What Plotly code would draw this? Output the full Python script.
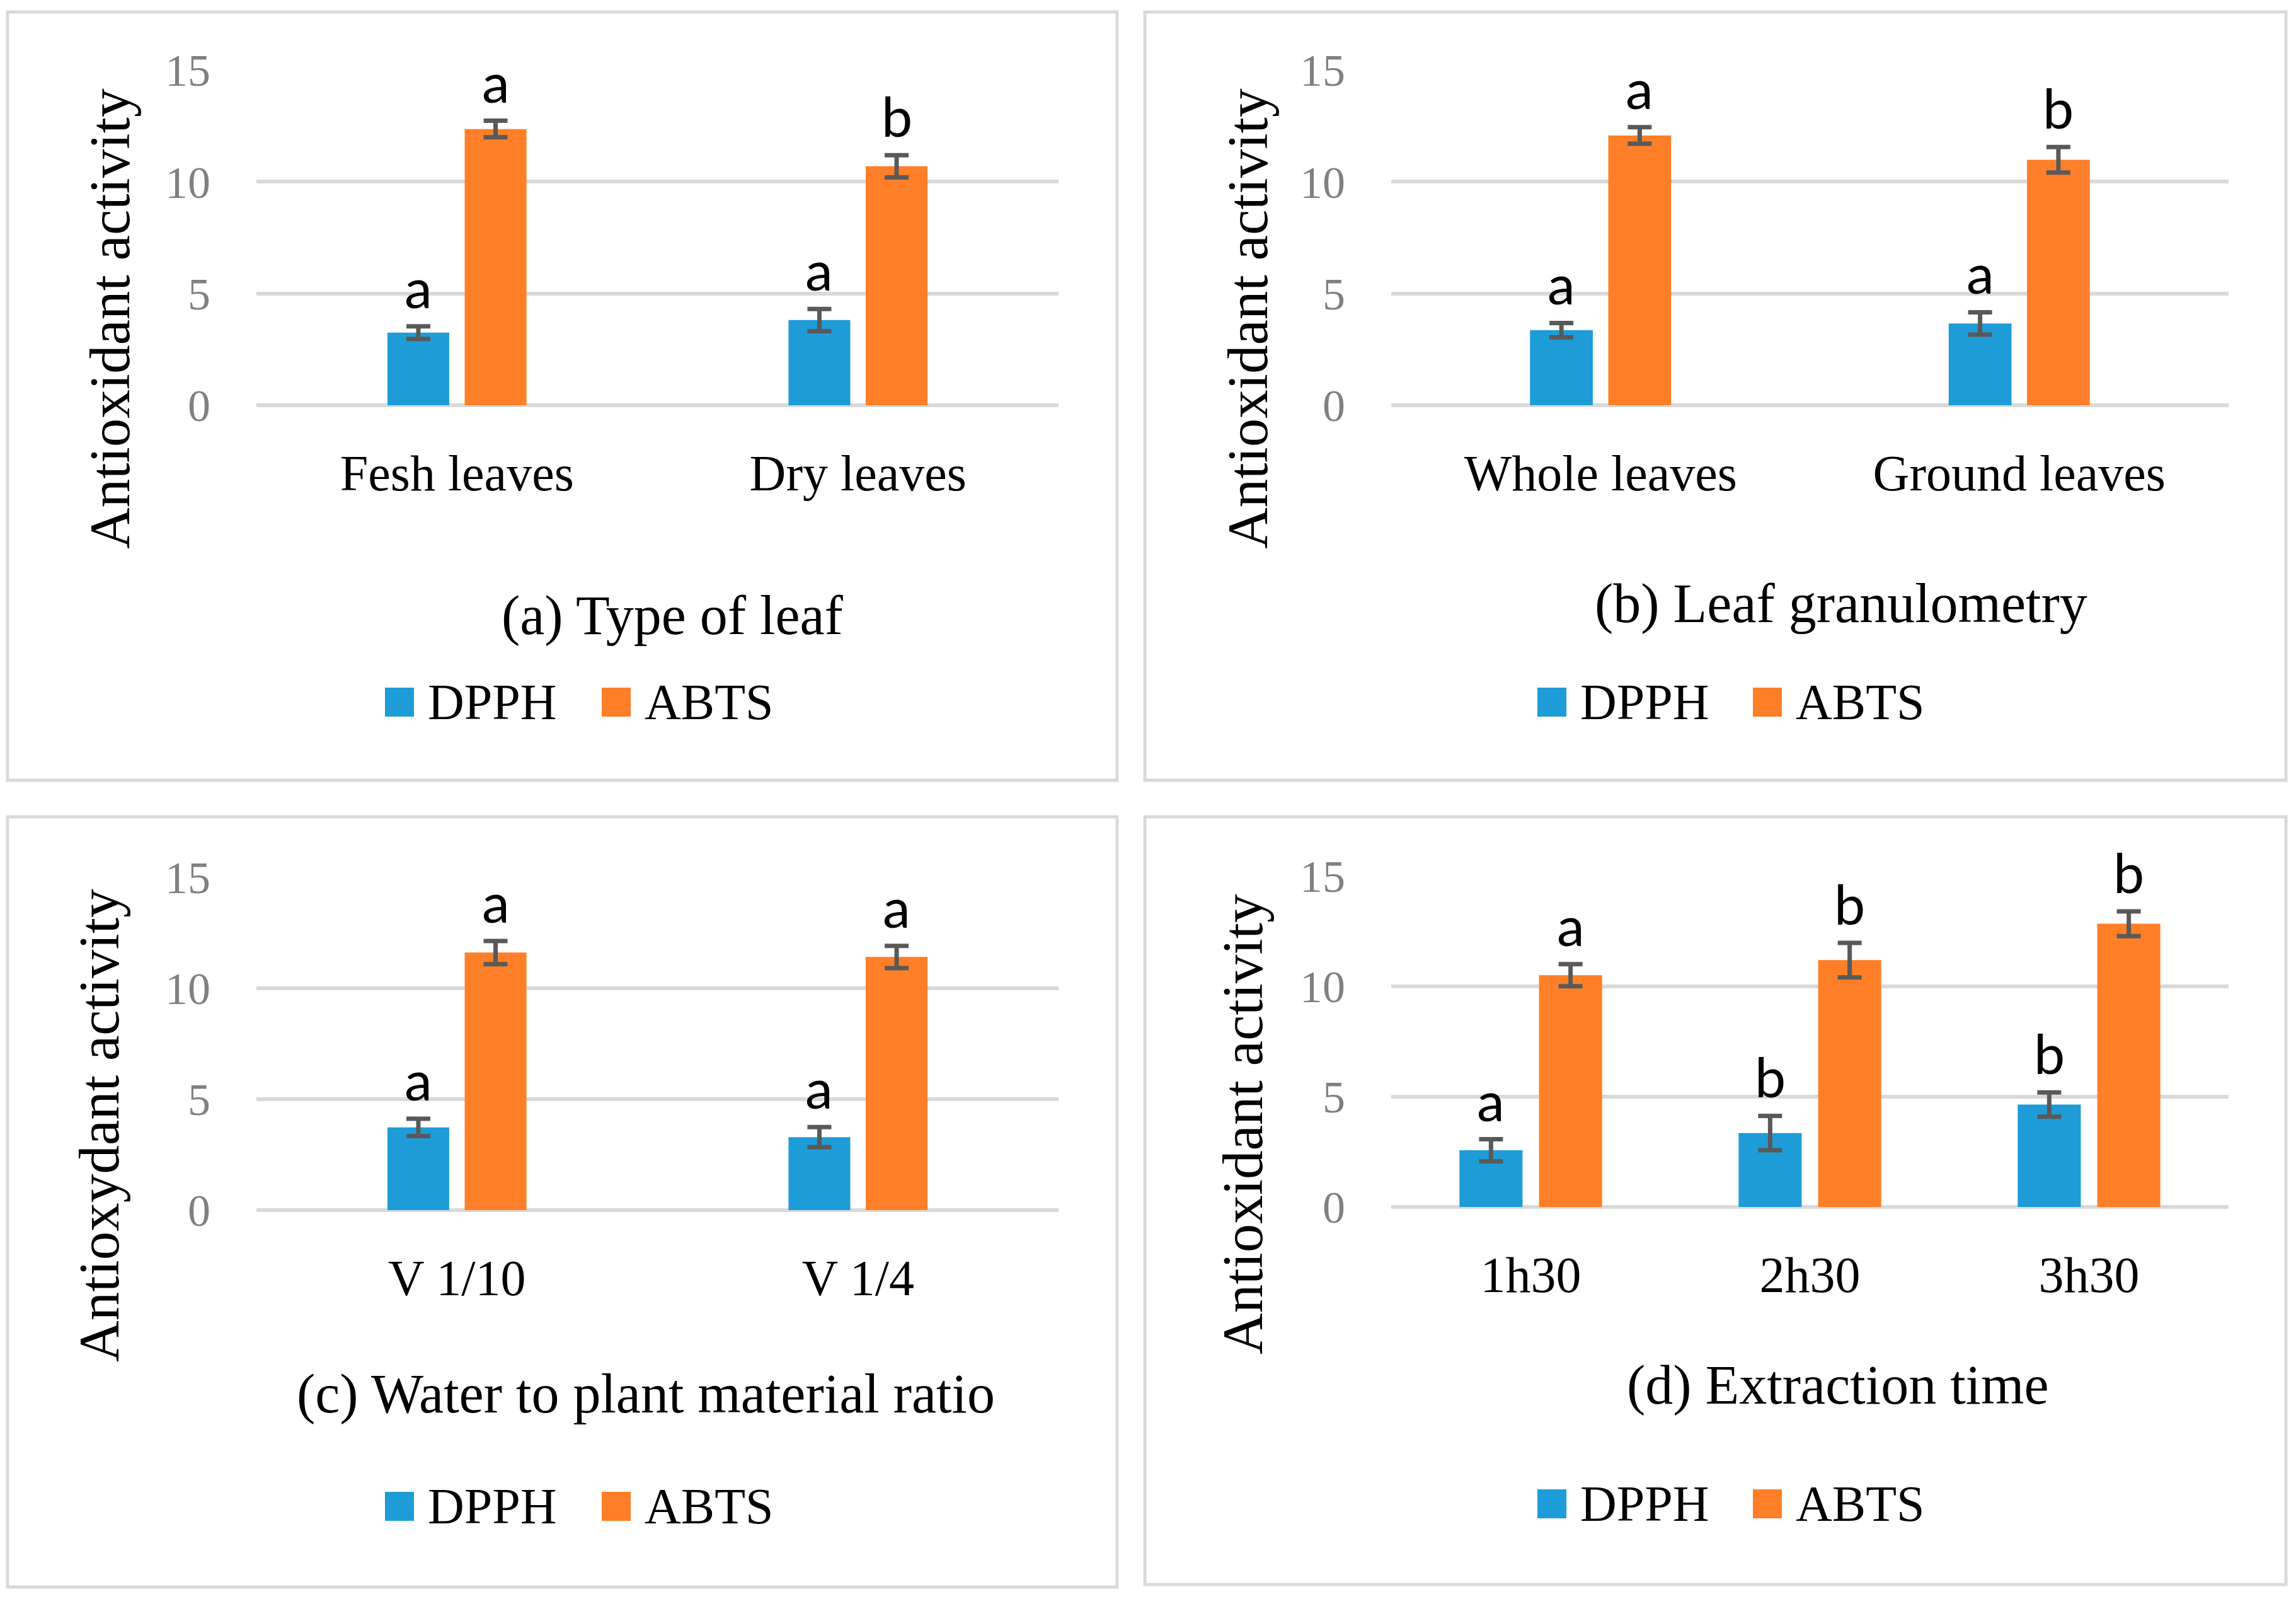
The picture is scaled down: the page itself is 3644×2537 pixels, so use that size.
import plotly.graph_objects as go

W, H = 3644, 2537
PAGE_OFFSET = 8  # the browser page margin pushes the figure down/right by this much

SERIES = ["DPPH", "ABTS"]
COLORS = ["#1e9cd8", "#fe7f27"]

# (a) Type of leaf
cats_a = ["Fesh leaves", "Dry leaves"]
dpph_a = [3.25, 3.81]
dpph_err_a = [0.28, 0.50]
abts_a = [12.36, 10.69]
abts_err_a = [0.37, 0.50]
dpph_let_a = ["a", "a"]
abts_let_a = ["a", "b"]

# (b) Leaf granulometry
cats_b = ["Whole leaves", "Ground leaves"]
dpph_b = [3.36, 3.66]
dpph_err_b = [0.32, 0.50]
abts_b = [12.07, 10.98]
abts_err_b = [0.37, 0.57]
dpph_let_b = ["a", "a"]
abts_let_b = ["a", "b"]

# (c) Water to plant material ratio
cats_c = ["V 1/10", "V 1/4"]
dpph_c = [3.73, 3.29]
dpph_err_c = [0.39, 0.45]
abts_c = [11.61, 11.41]
abts_err_c = [0.52, 0.50]
dpph_let_c = ["a", "a"]
abts_let_c = ["a", "a"]

# (d) Extraction time
cats_d = ["1h30", "2h30", "3h30"]
dpph_d = [2.57, 3.35, 4.64]
dpph_err_d = [0.50, 0.78, 0.55]
abts_d = [10.51, 11.19, 12.84]
abts_err_d = [0.50, 0.78, 0.56]
dpph_let_d = ["a", "b", "b"]
abts_let_d = ["a", "b", "b"]

SUBTITLES = ["(a) Type of leaf", "(b) Leaf granulometry",
             "(c) Water to plant material ratio", "(d) Extraction time"]
YTITLES = ["Antioxidant activity", "Antioxidant activity",
           "Antioxydant activity", "Antioxidant activity"]

SERIF = "Liberation Serif"
SANS = "Lato"
GRID = "#d9d9d9"


def px(x):
    return (x - PAGE_OFFSET) / W


def py(y):
    return 1 - (y - PAGE_OFFSET) / H


panels = [
    dict(cats=cats_a, vals=[dpph_a, abts_a], errs=[dpph_err_a, abts_err_a], lets=[dpph_let_a, abts_let_a],
         box=(12, 19, 1773, 1238), xdom=(407, 1680), ydom=(111, 643), bw=0.154, gap=0.0386,
         ytitle=(174, 506), sub=(1067, 977), leg=(611, 955, 1114)),
    dict(cats=cats_b, vals=[dpph_b, abts_b], errs=[dpph_err_b, abts_err_b], lets=[dpph_let_b, abts_let_b],
         box=(1817, 19, 3628, 1238), xdom=(2208, 3537), ydom=(111, 643), bw=0.150, gap=0.037,
         ytitle=(1980, 506), sub=(2922, 957), leg=(2440, 2782, 1114)),
    dict(cats=cats_c, vals=[dpph_c, abts_c], errs=[dpph_err_c, abts_err_c], lets=[dpph_let_c, abts_let_c],
         box=(12, 1296, 1773, 2518), xdom=(407, 1680), ydom=(1392, 1920), bw=0.154, gap=0.0386,
         ytitle=(158, 1786), sub=(1025, 2211), leg=(611, 955, 2390)),
    dict(cats=cats_d, vals=[dpph_d, abts_d], errs=[dpph_err_d, abts_err_d], lets=[dpph_let_d, abts_let_d],
         box=(1817, 1296, 3628, 2514), xdom=(2208, 3537), ydom=(1390, 1915), bw=0.226, gap=0.059,
         ytitle=(1972, 1784), sub=(2917, 2197), leg=(2440, 2782, 2386)),
]

fig = go.Figure()
shapes = []
annotations = []
layout_axes = {}

for k, p in enumerate(panels):
    n = k + 1
    xa = "x" if n == 1 else f"x{n}"
    ya = "y" if n == 1 else f"y{n}"
    offsets = [-p["bw"] - p["gap"] / 2, p["gap"] / 2]

    for s in range(2):
        fig.add_trace(go.Bar(
            x=p["cats"], y=p["vals"][s], name=SERIES[s],
            width=p["bw"], offset=offsets[s],
            marker=dict(color=COLORS[s], line=dict(width=0)),
            error_y=dict(type="data", array=p["errs"][s], color="#595959", thickness=7, width=19),
            xaxis=xa, yaxis=ya, showlegend=False,
        ))
        # significance letters above the error bars
        for i, (v, e, t) in enumerate(zip(p["vals"][s], p["errs"][s], p["lets"][s])):
            annotations.append(dict(
                x=i + offsets[s] + p["bw"] / 2, y=v + e, xref=xa, yref=ya,
                text=t, showarrow=False, yanchor="bottom", yshift=8,
                font=dict(family=SANS, size=88, color="black"),
            ))

    xkey = "xaxis" if n == 1 else f"xaxis{n}"
    ykey = "yaxis" if n == 1 else f"yaxis{n}"
    layout_axes[xkey] = dict(
        domain=[px(p["xdom"][0]), px(p["xdom"][1])], anchor=ya, type="category",
        range=[-0.5, len(p["cats"]) - 0.5], showgrid=False, zeroline=False, showline=False,
        automargin=False, ticks="", ticklabelstandoff=54,
        tickfont=dict(family=SERIF, size=80, color="black"),
    )
    layout_axes[ykey] = dict(
        domain=[py(p["ydom"][1]), py(p["ydom"][0])], anchor=xa, range=[0, 15], dtick=5,
        showgrid=True, gridcolor=GRID, gridwidth=6, zeroline=True, zerolinecolor=GRID,
        zerolinewidth=6, showline=False, automargin=False, ticks="", ticklabelstandoff=72,
        tickfont=dict(family=SERIF, size=72, color="#808080"),
    )

    # panel frame
    x0, y0, x1, y1 = p["box"]
    shapes.append(dict(type="rect", xref="paper", yref="paper", x0=px(x0), x1=px(x1),
                       y0=py(y1), y1=py(y0), line=dict(color=GRID, width=5), layer="below"))

    annotations.append(dict(x=px(p["ytitle"][0]), y=py(p["ytitle"][1]), xref="paper", yref="paper",
                            text=YTITLES[k], textangle=-90, showarrow=False,
                            xanchor="center", yanchor="middle",
                            font=dict(family=SERIF, size=91, color="black")))
    annotations.append(dict(x=px(p["sub"][0]), y=py(p["sub"][1]), xref="paper", yref="paper",
                            text=SUBTITLES[k], showarrow=False, xanchor="center", yanchor="middle",
                            font=dict(family=SERIF, size=88, color="black")))

    # legend drawn by hand so the swatches can be as large as in the original
    ly = p["leg"][2]
    for s in range(2):
        lx = p["leg"][s]
        shapes.append(dict(type="rect", xref="paper", yref="paper", x0=px(lx), x1=px(lx + 46),
                           y0=py(ly + 23), y1=py(ly - 23), line=dict(width=0), fillcolor=COLORS[s]))
        annotations.append(dict(x=px(lx + 66), y=py(ly), xref="paper", yref="paper",
                                text=SERIES[s], showarrow=False, xanchor="left", yanchor="middle",
                                font=dict(family=SERIF, size=80, color="black")))

fig.update_layout(
    width=W, height=H, margin=dict(l=0, r=0, t=0, b=0, autoexpand=False),
    paper_bgcolor="white", plot_bgcolor="white",
    barmode="overlay", shapes=shapes, annotations=annotations,
    **layout_axes,
)

fig.write_html("out.html")
